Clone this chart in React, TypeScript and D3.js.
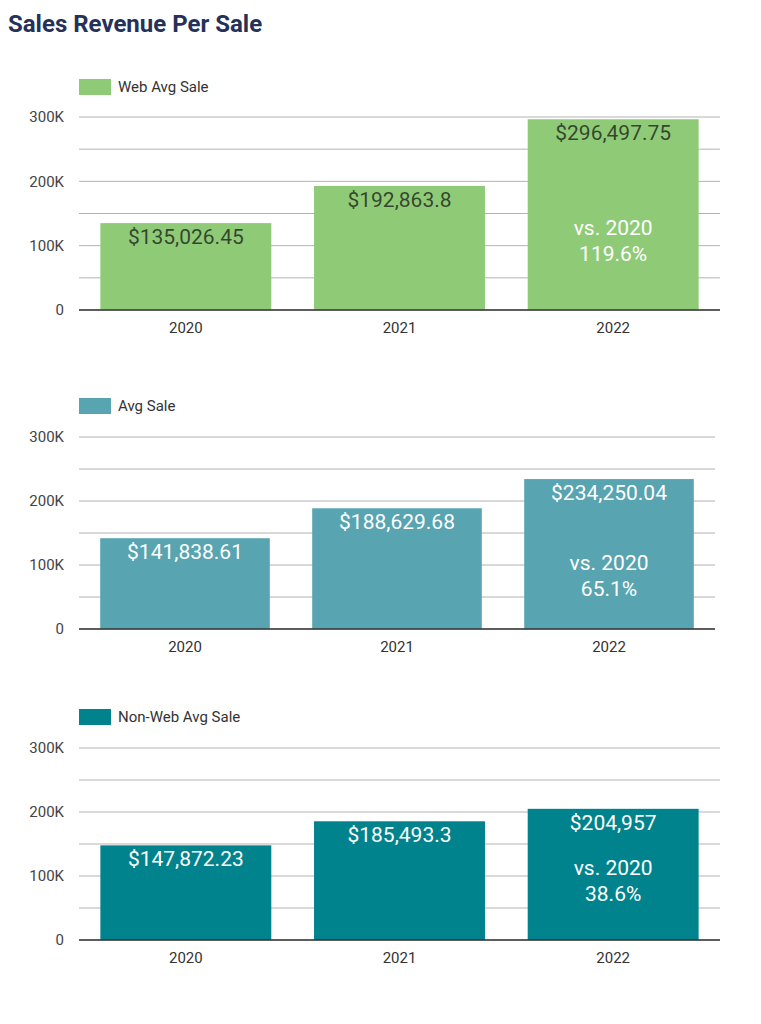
import React from "react";
import * as d3 from "d3";

const years = ["2020", "2021", "2022"];
const webAvgSale = [135026.45, 192863.8, 296497.75];
const avgSale = [141838.61, 188629.68, 234250.04];
const nonWebAvgSale = [147872.23, 185493.3, 204957];
const vsPrevLabel = "vs. 2020";
const webChange = [119.6];
const avgChange = [65.1];
const nonWebChange = [38.6];
const yTickValues = [0, 100000, 200000, 300000];
const gridValues = [0, 50000, 100000, 150000, 200000, 250000, 300000];
const seriesNames = ["Web Avg Sale", "Avg Sale", "Non-Web Avg Sale"];

const panels = [
  { name: seriesNames[0], values: webAvgSale, change: webChange[0], color: "#8fca76", labelColor: "rgba(30,40,30,0.82)", legendTop: 79, yTop: 117, yZero: 310, xRight: 720, annOffset: 75 },
  { name: seriesNames[1], values: avgSale, change: avgChange[0], color: "#58a4b1", labelColor: "#ffffff", legendTop: 398, yTop: 437, yZero: 629, xRight: 715, annOffset: 59 },
  { name: seriesNames[2], values: nonWebAvgSale, change: nonWebChange[0], color: "#00838c", labelColor: "#ffffff", legendTop: 709, yTop: 748, yZero: 940, xRight: 720, annOffset: 65 },
];

const FONT = "Roboto, 'Noto Sans', sans-serif";
const fmtMoney = d3.format("$,");
const fmtTick = (v: number) => (v === 0 ? "0" : d3.format("~s")(v).replace("k", "K"));

function Panel({ p }: { p: typeof panels[number] }) {
  const xLeft = 79;
  const x = d3.scaleBand<string>().domain(years).range([xLeft, p.xRight]).paddingInner(0.2).paddingOuter(0.1);
  const y = d3.scaleLinear().domain([0, 300000]).range([p.yZero, p.yTop]);
  const last = years.length - 1;
  const cx = (yr: string) => (x(yr) as number) + x.bandwidth() / 2;
  return (
    <g>
      <rect x={79} y={p.legendTop} width={32} height={16} fill={p.color} />
      <text x={118} y={p.legendTop + 13} fontSize={15} fill="#333" fontFamily={FONT}>{p.name}</text>
      {gridValues.map((g) => (
        <line key={g} x1={xLeft} x2={p.xRight} y1={y(g)} y2={y(g)} stroke="#b3b3b3" strokeWidth={1} />
      ))}
      {yTickValues.map((t) => (
        <text key={t} x={64} y={y(t)} dy="0.35em" textAnchor="end" fontSize={15} fill="#444" fontFamily={FONT}>{fmtTick(t)}</text>
      ))}
      {p.values.map((v, i) => (
        <rect key={i} x={x(years[i])} y={y(v)} width={x.bandwidth()} height={y(0) - y(v)} fill={p.color} />
      ))}
      <line x1={xLeft} x2={p.xRight} y1={y(0)} y2={y(0)} stroke="#333" strokeWidth={1.5} />
      {p.values.map((v, i) => (
        <text key={i} x={cx(years[i])} y={y(v) + 21} textAnchor="middle" fontSize={21} fill={p.labelColor} fontFamily={FONT}>{fmtMoney(v)}</text>
      ))}
      {years.map((yr) => (
        <text key={yr} x={cx(yr)} y={p.yZero + 23} textAnchor="middle" fontSize={15} fill="#333" fontFamily={FONT}>{yr}</text>
      ))}
      <text x={cx(years[last])} y={p.yZero - p.annOffset} textAnchor="middle" fontSize={21} fill="#ffffff" fontFamily={FONT}>
        <tspan x={cx(years[last])}>{vsPrevLabel}</tspan>
        <tspan x={cx(years[last])} dy={26}>{p.change.toFixed(1)}%</tspan>
      </text>
    </g>
  );
}

export default function App() {
  return (
    <svg width={761} height={1024} style={{ position: "absolute", left: 0, top: 0, background: "#fff" }}>
      <rect width={761} height={1024} fill="#fff" />
      <text x={8} y={32} fontSize={24} fontWeight="bold" fill="#263159" fontFamily={FONT}>Sales Revenue Per Sale</text>
      {panels.map((p) => (
        <Panel key={p.name} p={p} />
      ))}
    </svg>
  );
}
